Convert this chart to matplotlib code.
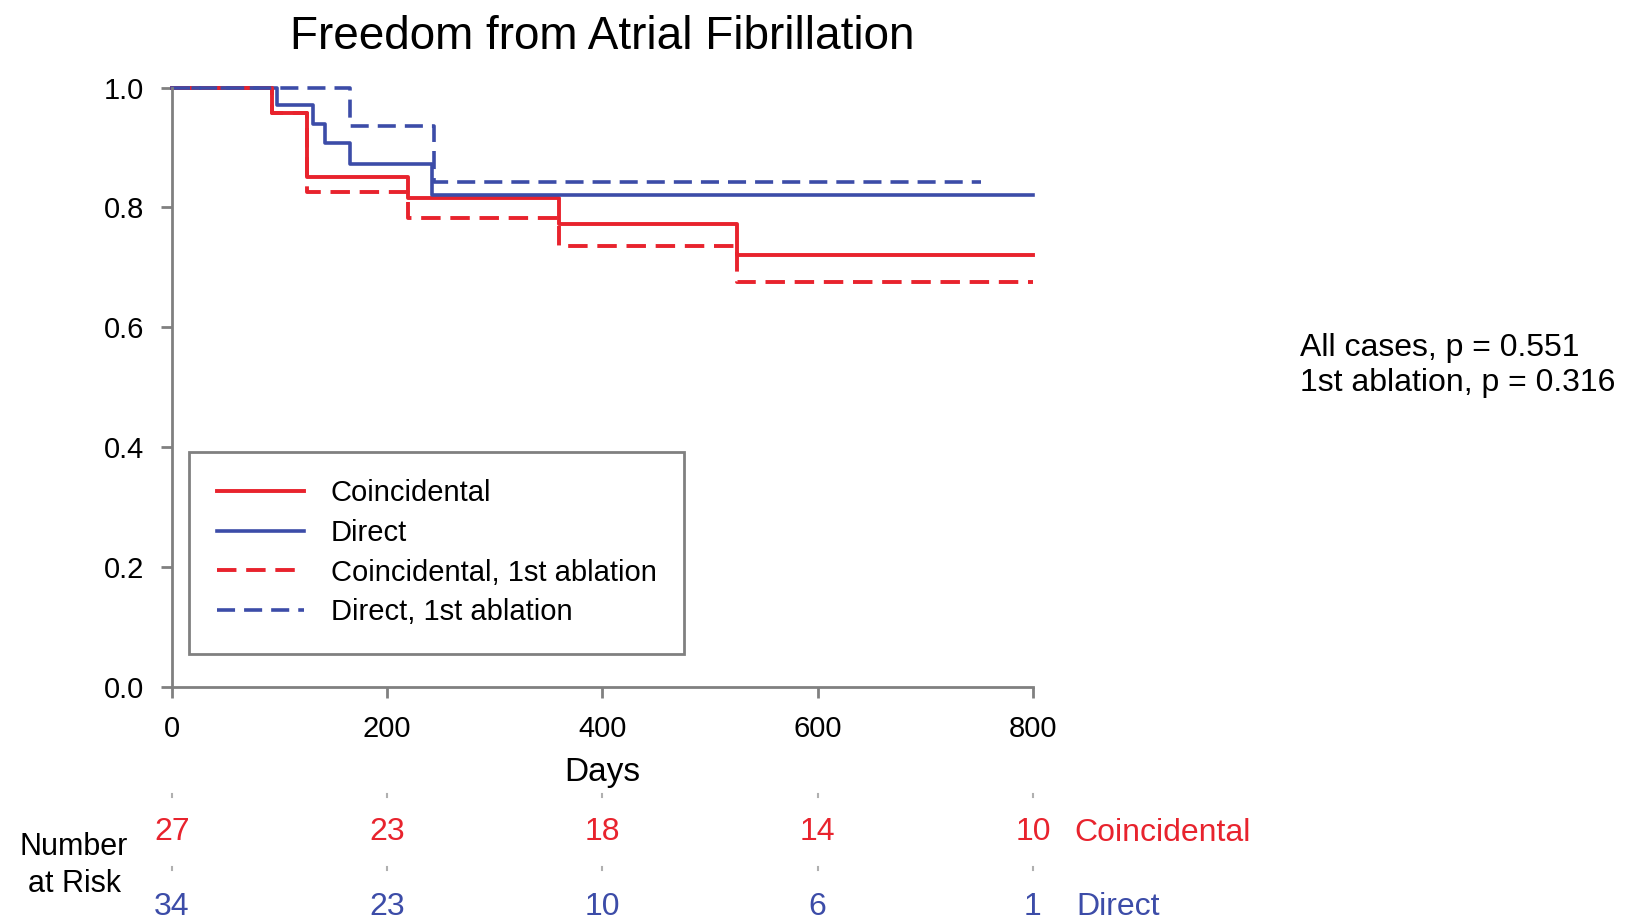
import matplotlib.pyplot as plt
from matplotlib.transforms import blended_transform_factory

plt.rcParams['font.family'] = ['Liberation Sans', 'DejaVu Sans']

red = '#e8232d'
blue = '#3c4ca8'

# survival curves (step functions)
coin_t = [0, 93, 125, 219, 360, 525, 800]
coin_s = [1.0, 0.957, 0.85, 0.815, 0.772, 0.72, 0.72]
dir_t = [0, 98, 131, 142, 165, 242, 800]
dir_s = [1.0, 0.97, 0.939, 0.907, 0.873, 0.82, 0.82]
coin1_t = [0, 93, 125, 219, 360, 525, 800]
coin1_s = [1.0, 0.957, 0.825, 0.783, 0.735, 0.675, 0.675]
dir1_t = [0, 165, 243, 752]
dir1_s = [1.0, 0.936, 0.843, 0.843]

risk_days = [0, 200, 400, 600, 800]
risk_coin = [27, 23, 18, 14, 10]
risk_dir = [34, 23, 10, 6, 1]

fig = plt.figure(figsize=(16.35, 9.23), dpi=100)
ax = fig.add_axes([0.1052, 0.2557, 0.5266, 0.6495])

ax.step(coin_t, coin_s, where='post', color=red, lw=2.8, label='Coincidental', clip_on=False)
ax.step(dir_t, dir_s, where='post', color=blue, lw=2.6, label='Direct', clip_on=False)
ax.step(coin1_t, coin1_s, where='post', color=red, lw=2.8, ls=(0, (5, 2.5)),
        label='Coincidental, 1st ablation', clip_on=False)
ax.step(dir1_t, dir1_s, where='post', color=blue, lw=2.6, ls=(0, (5, 2.5)),
        label='Direct, 1st ablation', clip_on=False)

ax.set_xlim(0, 800)
ax.set_ylim(0, 1.0)
ax.set_xticks(risk_days)
ax.set_yticks([0, 0.2, 0.4, 0.6, 0.8, 1.0])
ax.set_yticklabels(['0.0', '0.2', '0.4', '0.6', '0.8', '1.0'])
for s in ['top', 'right']:
    ax.spines[s].set_visible(False)
for s in ['left', 'bottom']:
    ax.spines[s].set_color('#808080')
    ax.spines[s].set_linewidth(2)
ax.tick_params(direction='out', length=8, width=2, color='#808080', labelsize=21, pad=12)
ax.set_xlabel('Days', fontsize=24, labelpad=10)
ax.set_title('Freedom from Atrial Fibrillation', fontsize=33, pad=28)

leg = ax.legend(loc='lower left', bbox_to_anchor=(0.02, 0.055), fontsize=21, handlelength=3.0,
                handletextpad=0.9, borderpad=0.95, labelspacing=0.4, fancybox=False,
                framealpha=1, borderaxespad=0)
leg.get_frame().set_edgecolor('#808080')
leg.get_frame().set_linewidth(2)

fig.text(0.795, 0.604, 'All cases, p = 0.551\n1st ablation, p = 0.316', fontsize=23,
         va='center', ha='left', linespacing=1.25)

# number at risk table
tr = blended_transform_factory(ax.transData, fig.transFigure)
for d, c, r in zip(risk_days, risk_coin, risk_dir):
    ax.text(d, 0.099, str(c), color=red, fontsize=23, ha='center', va='center', transform=tr)
    ax.text(d, 0.017, str(r), color=blue, fontsize=23, ha='center', va='center', transform=tr)
    ax.plot([d, d], [0.136, 0.140], color='#b0b0b0', lw=1.5, transform=tr, clip_on=False)
    ax.plot([d, d], [0.057, 0.061], color='#b0b0b0', lw=1.5, transform=tr, clip_on=False)
ax.text(838, 0.097, 'Coincidental', color=red, fontsize=23, ha='left', va='center', transform=tr)
ax.text(840, 0.017, 'Direct', color=blue, fontsize=23, ha='left', va='center', transform=tr)
ax.text(-91, 0.062, 'Number\nat Risk', fontsize=22, ha='center', va='center', linespacing=1.3,
        transform=tr)

fig.savefig('out.png', dpi=100)
